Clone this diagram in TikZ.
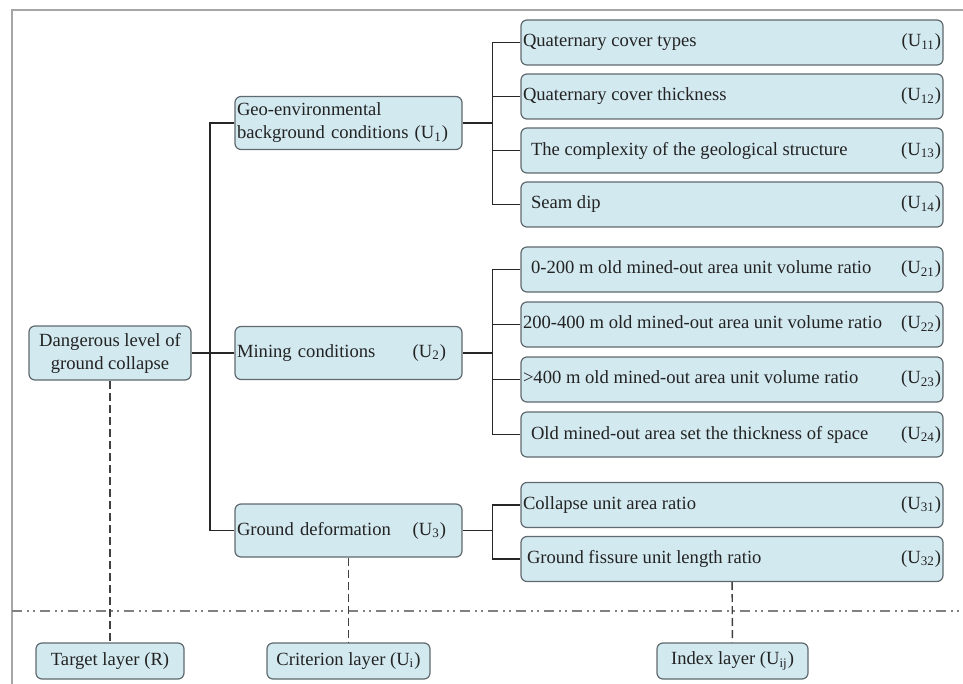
\documentclass[tikz,border=0pt]{standalone}
\usepackage{fontspec}
\setmainfont{Liberation Serif}
\usetikzlibrary{positioning,calc}
\definecolor{boxfill}{RGB}{210,233,240}
\definecolor{boxline}{RGB}{95,105,110}
\definecolor{textcol}{RGB}{35,35,35}
\newcommand{\indexrow}[2]{\makebox[209pt][l]{#1\hfill(U\textsubscript{#2})}}
\tikzstyle{box} = [rectangle, draw=boxline, fill=boxfill, line width=0.6pt, rounded corners=3pt, text=textcol, font=\fontsize{9.3}{11.5}\selectfont]
\tikzstyle{goal} = [box, align=center, minimum width=81pt, minimum height=27pt, inner sep=1pt]
\tikzstyle{criterion} = [box, align=left, text width=111.5pt, minimum height=26.5pt, inner xsep=1pt, inner ysep=1pt]
\tikzstyle{index} = [box, minimum width=211pt, minimum height=22.5pt, inner xsep=1pt, inner ysep=1pt]
\tikzstyle{layer} = [box, align=center, minimum height=18pt, inner sep=1pt]
\tikzstyle{link} = [line width=0.65pt, draw=black!85]
\tikzstyle{guide} = [line width=0.7pt, draw=black!75, dash pattern=on 4pt off 2pt]
\tikzstyle{divider} = [line width=0.7pt, draw=black!50, dash pattern=on 5pt off 2.5pt on 1pt off 2pt on 1pt off 2.5pt]
\tikzstyle{frame} = [line width=0.6pt, draw=black!35]

\begin{document}
\begin{tikzpicture}[x=0.5pt, y=-0.5pt, node distance=27pt]
    \useasboundingbox (0,0) rectangle (963,684);
    \draw[frame] (963,10) -- (12,10) -- (12,684);

    % target and criterion layer
    \node[goal] (root) at (110,353) {Dangerous level of\\ground collapse};
    \node[criterion] (u1) at (348.5,123) {Geo-environmental\\background conditions (U\textsubscript{1})};
    \node[criterion] (u2) at (348.5,353) {Mining conditions\hfill(U\textsubscript{2})\hspace*{7pt}};
    \node[criterion] (u3) at (348.5,530.5) {Ground deformation\hfill(U\textsubscript{3})\hspace*{7pt}};

    % index layer
    \node[index] (u11) at (732,42.5) {\indexrow{Quaternary cover types}{11}};
    \node[index, below of=u11] (u12) {\indexrow{Quaternary cover thickness}{12}};
    \node[index, below of=u12] (u13) {\indexrow{\hspace*{4pt}The complexity of the geological structure}{13}};
    \node[index, below of=u13] (u14) {\indexrow{\hspace*{4pt}Seam dip}{14}};
    \begin{scope}[node distance=27.5pt]
    \node[index] (u21) at (732,269.5) {\indexrow{\hspace*{4pt}0-200 m old mined-out area unit volume ratio}{21}};
    \node[index, below of=u21] (u22) {\indexrow{200-400 m old mined-out area unit volume ratio}{22}};
    \node[index, below of=u22] (u23) {\indexrow{>400 m old mined-out area unit volume ratio}{23}};
    \node[index, below of=u23] (u24) {\indexrow{\hspace*{4pt}Old mined-out area set the thickness of space}{24}};
    \end{scope}
    \node[index] (u31) at (732,505) {\indexrow{Collapse unit area ratio}{31}};
    \node[index, below of=u31] (u32) {\indexrow{\hspace*{2pt}Ground fissure unit length ratio}{32}};

    % layer names
    \node[layer, minimum width=74pt] (target) at (110,661) {Target layer (R)};
    \node[layer, minimum width=81.5pt] (crit) at (348.5,661) {Criterion layer (U\textsubscript{i})};
    \node[layer, minimum width=75.5pt] (idx) at (732.5,661) {Index layer (U\textsubscript{ij})};

    \coordinate (trunk) at (210,353);
    \coordinate[right=15pt of u1.east] (b1);
    \coordinate[right=15pt of u2.east] (b2);
    \coordinate[right=15pt of u3.east] (b3);
    \coordinate (dl) at (12,611);
    \coordinate (dr) at (963,611);

    \draw[link] (root) -- (u2);
    \draw[link] (u1.west) -| (trunk) |- (u3.west);
    \draw[link] (u1) -- (b1);
    \draw[link] (u11.west) -| (b1) |- (u14.west);
    \draw[link] (b1 |- u12.west) -- (u12.west);
    \draw[link] (b1 |- u13.west) -- (u13.west);
    \draw[link] (u2) -- (b2);
    \draw[link] (u21.west) -| (b2) |- (u24.west);
    \draw[link] (b2 |- u22.west) -- (u22.west);
    \draw[link] (b2 |- u23.west) -- (u23.west);
    \draw[link] (u3) -- (b3);
    \draw[link] (u31.west) -| (b3) |- (u32.west);

    \draw[divider] (dl) -- (dr);
    \draw[guide] (root) -- (target);
    \draw[guide] (u3) -- (crit);
    \draw[guide] (u32) -- (idx);
\end{tikzpicture}
\end{document}
